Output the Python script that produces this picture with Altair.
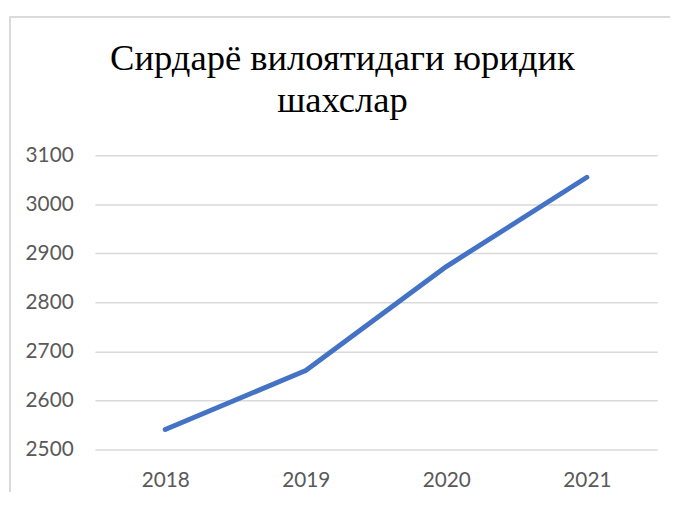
import altair as alt
import pandas as pd

years = ["2018", "2019", "2020", "2021"]
values = [2541, 2661, 2873, 3055]

df = pd.DataFrame({"year": years, "value": values})

line = alt.Chart(df).mark_line(color="#4472C4", strokeWidth=5, strokeCap="round", strokeJoin="round").encode(
    x=alt.X("year:N", sort=years, scale=alt.Scale(type="point", padding=0.5),
            axis=alt.Axis(title=None, labelAngle=0, domain=False, ticks=False, grid=False,
                          labelPadding=20, labelFontSize=21, labelFont="Lato", labelColor="#595959")),
    y=alt.Y("value:Q", scale=alt.Scale(domain=[2500, 3100], nice=False, zero=False),
            axis=alt.Axis(title=None, values=[2500, 2600, 2700, 2800, 2900, 3000, 3100], format="d",
                          domain=False, ticks=False, gridColor="#d9d9d9", gridWidth=1.5,
                          labelPadding=22, labelFontSize=21, labelFont="Lato", labelColor="#595959")),
)

frame_left = alt.Chart(df).mark_rule(color="#d9d9d9", strokeWidth=1.5).encode(
    x=alt.value(-86), y=alt.value(-140), y2=alt.value(420)
)
frame_top = alt.Chart(df).mark_rule(color="#d9d9d9", strokeWidth=1.5).encode(
    x=alt.value(-86), x2=alt.value(700), y=alt.value(-140)
)

chart = alt.layer(frame_left, frame_top, line).properties(
    width=569,
    height=298,
    title=alt.TitleParams(
        text=["Сирдарё вилоятидаги юридик", "шахслар"],
        font="Liberation Serif", fontSize=37, fontWeight="normal", color="#000000",
        anchor="middle", frame="group", lineHeight=42, offset=0, dx=-34, dy=105,
    ),
    padding={"left": 88, "top": 146, "right": 13, "bottom": 40},
    autosize=alt.AutoSizeParams(type="none"),
).configure_view(stroke=None)

chart.save("out.html", embed_options={"renderer": "svg", "actions": False})
